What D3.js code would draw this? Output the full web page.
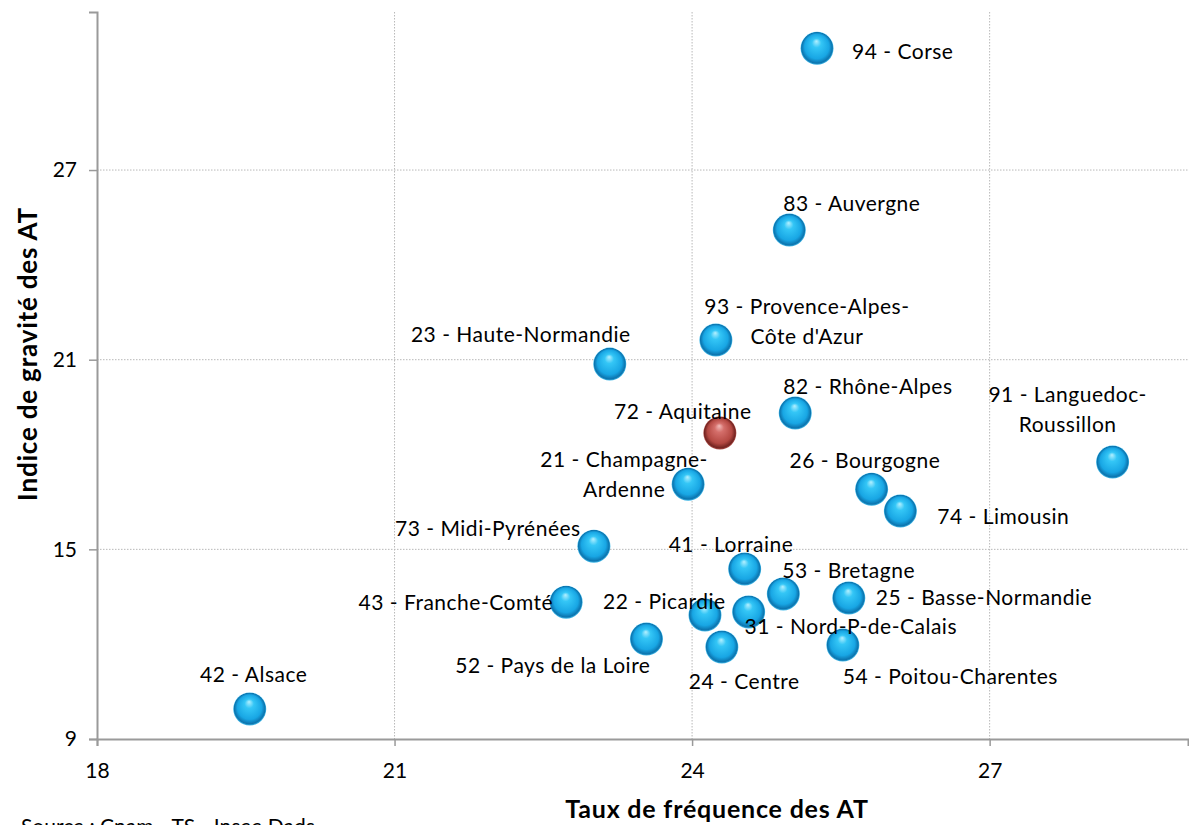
<!DOCTYPE html>
<html>
<head>
<meta charset="utf-8">
<script src="https://cdn.jsdelivr.net/npm/d3@7"></script>
<style>
  body { margin: 0; background: #fff; }
  svg { display: block; font-family: Lato, "Open Sans", sans-serif; }
</style>
</head>
<body>
<svg id="chart" width="1189" height="825"></svg>
<script>
// regions (label lines split with \n)
const regions = [
  "94 - Corse", "83 - Auvergne", "93 - Provence-Alpes-\nCôte d'Azur", "23 - Haute-Normandie",
  "82 - Rhône-Alpes", "72 - Aquitaine", "91 - Languedoc-\nRoussillon", "21 - Champagne-\nArdenne",
  "26 - Bourgogne", "74 - Limousin", "73 - Midi-Pyrénées", "41 - Lorraine",
  "53 - Bretagne", "25 - Basse-Normandie", "43 - Franche-Comté", "22 - Picardie",
  "31 - Nord-P-de-Calais", "52 - Pays de la Loire", "24 - Centre", "54 - Poitou-Charentes",
  "42 - Alsace"
];
// taux de fréquence (x)
const frequence = [25.26, 24.98, 24.24, 23.17, 25.04, 24.28, 28.24, 23.96, 25.81, 26.10, 23.01,
  24.53, 24.92, 25.58, 22.73, 24.13, 24.57, 23.54, 24.30, 25.52, 19.54];
// indice de gravité (y)
const gravite = [30.85, 25.10, 21.62, 20.86, 19.31, 18.68, 17.76, 17.06, 16.90, 16.21, 15.10,
  14.38, 13.59, 13.46, 13.33, 12.92, 13.02, 12.16, 11.91, 11.97, 9.95];
const highlighted = ["72 - Aquitaine"];

const xTicks = [18, 21, 24, 27];
const yTicks = [9, 15, 21, 27];

// label placement relative to each bubble (pixels)
const labelPos = [
  [35, 2, "start"], [-6, -28, "start"], [91, -35, "middle"], [-89, -31, "middle"],
  [-12, -28, "start"], [-37, -23, "middle"], [-45, -69, "middle"], [-64, -26, "middle"],
  [-82, -30, "start"], [37, 4, "start"], [-106, -19, "middle"], [-76, -26, "start"],
  [-1, -25, "start"], [27, -2, "start"], [-13, -1, "end"], [-102, -15, "start"],
  [-4, 13, "start"], [4, 25, "end"], [-33, 33, "start"], [0, 30, "start"],
  [4, -36, "middle"]
];

const svg = d3.select("#chart");
const x = d3.scaleLinear().domain([18, 29]).range([97, 1188]);
const y = d3.scaleLinear().domain([9, 32]).range([739, 12]);

const defs = svg.append("defs");
function sphere(id, c0, c1, c2, c3, rim) {
  const g = defs.append("radialGradient").attr("id", id)
    .attr("cx", "50%").attr("cy", "50%").attr("r", "50%")
    .attr("fx", "48%").attr("fy", "28%");
  g.append("stop").attr("offset", "0%").attr("stop-color", c0);
  g.append("stop").attr("offset", "28%").attr("stop-color", c1);
  g.append("stop").attr("offset", "74%").attr("stop-color", c2);
  g.append("stop").attr("offset", "93%").attr("stop-color", c3);
  g.append("stop").attr("offset", "100%").attr("stop-color", rim);
}
sphere("blue", "#b4f0ff", "#34c6f6", "#18a6e4", "#0c74ae", "#44bceb");
sphere("red", "#f2bcba", "#d46e6a", "#b44842", "#742421", "#b0504b");

// grid
svg.append("g").selectAll("line").data(xTicks.slice(1)).join("line")
  .attr("x1", d => x(d)).attr("x2", d => x(d)).attr("y1", y(32)).attr("y2", y(9))
  .attr("stroke", "#b8b8b8").attr("stroke-width", 1).attr("stroke-dasharray", "1.5,1.5");
svg.append("g").selectAll("line").data(yTicks.slice(1)).join("line")
  .attr("x1", x(18)).attr("x2", x(29)).attr("y1", d => y(d)).attr("y2", d => y(d))
  .attr("stroke", "#b8b8b8").attr("stroke-width", 1).attr("stroke-dasharray", "1.5,1.5");

// axes
const xAxis = svg.append("g").attr("transform", `translate(0,${y(9)})`)
  .call(d3.axisBottom(x).tickValues(xTicks).tickSize(7).tickPadding(17));
const yAxis = svg.append("g").attr("transform", `translate(${x(18)},0)`)
  .call(d3.axisLeft(y).tickValues(yTicks).tickSize(8).tickPadding(12));
[xAxis, yAxis].forEach(a => {
  a.select(".domain").attr("stroke", "#9a9a9a").attr("stroke-width", 2);
  a.selectAll(".tick line").attr("stroke", "#9a9a9a").attr("stroke-width", 1.5);
  a.selectAll(".tick text").attr("font-size", 21).attr("fill", "#000")
    .attr("font-family", "Lato, sans-serif");
});

// axis titles
svg.append("text").attr("x", 717).attr("y", 818).attr("text-anchor", "middle")
  .attr("font-size", 25).attr("font-weight", "bold").attr("letter-spacing", 0.8)
  .text("Taux de fréquence des AT");
svg.append("text").attr("transform", "translate(37,354) rotate(-90)").attr("text-anchor", "middle")
  .attr("font-size", 26).attr("font-weight", "bold").attr("letter-spacing", 0.8)
  .text("Indice de gravité des AT");
svg.append("text").attr("x", 21).attr("y", 834).attr("font-size", 21)
  .text("Source : Cnam - TS - Insee Dads");

// bubbles
const pts = regions.map((r, i) => ({ r, fx: frequence[i], gy: gravite[i], lp: labelPos[i] }));
svg.append("g").selectAll("circle").data(pts).join("circle")
  .attr("cx", d => x(d.fx)).attr("cy", d => y(d.gy)).attr("r", 16.5)
  .attr("fill", d => highlighted.includes(d.r) ? "url(#red)" : "url(#blue)");

// labels
const lab = svg.append("g").attr("font-size", 21).attr("letter-spacing", 0.5).attr("fill", "#000")
  .selectAll("text").data(pts).join("text")
  .attr("text-anchor", d => d.lp[2])
  .attr("x", d => x(d.fx) + d.lp[0])
  .attr("y", d => y(d.gy) + d.lp[1])
  .attr("dominant-baseline", "central");
lab.each(function(d) {
  d.r.split("\n").forEach((line, k) => {
    d3.select(this).append("tspan")
      .attr("x", x(d.fx) + d.lp[0])
      .attr("dy", k === 0 ? 0 : 30)
      .text(line);
  });
});
</script>
</body>
</html>
